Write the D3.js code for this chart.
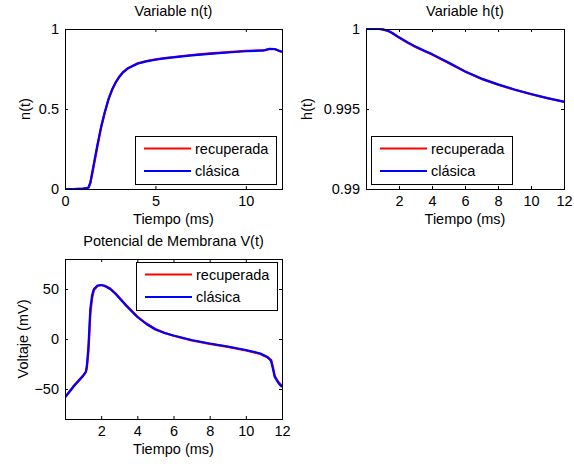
<!DOCTYPE html>
<html>
<head>
<meta charset="utf-8">
<script src="https://cdn.jsdelivr.net/npm/d3@7/dist/d3.min.js"></script>
<style>
  body { margin: 0; background: #fff; }
  #chart { width: 574px; height: 466px; }
  text { font-family: "Liberation Sans", Arial, sans-serif; font-size: 14.5px; fill: #000; }
</style>
</head>
<body>
<div id="chart"></div>
<script>

/* DATA: gating variable n(t) */
const tN = [0, 0.5, 1.0, 1.2, 1.3, 1.4, 1.5, 1.6, 1.8, 2.0, 2.2, 2.4, 2.6, 2.8, 3.0, 3.2, 3.5, 4.0, 4.5, 5.0, 5.5, 6.0, 7.0, 8.0, 9.0, 10.0, 11.0, 11.3, 11.6, 11.8, 12.0];
const nClasica = [0, 0, 0.002, 0.005, 0.01, 0.04, 0.1, 0.16, 0.28, 0.39, 0.48, 0.56, 0.62, 0.665, 0.7, 0.728, 0.755, 0.783, 0.798, 0.808, 0.816, 0.823, 0.835, 0.845, 0.853, 0.861, 0.866, 0.876, 0.875, 0.866, 0.858];
const nRecuperada = [0, 0, 0.002, 0.004, 0.008, 0.035, 0.09, 0.15, 0.27, 0.385, 0.478, 0.558, 0.619, 0.666, 0.702, 0.73, 0.757, 0.785, 0.8, 0.81, 0.818, 0.825, 0.837, 0.848, 0.856, 0.864, 0.867, 0.875, 0.874, 0.865, 0.857];

/* DATA: gating variable h(t) */
const tH = [0, 0.8, 1.0, 1.3, 1.6, 2.0, 2.5, 3.0, 3.5, 4.0, 5.0, 6.0, 7.0, 8.0, 9.0, 10.0, 11.0, 12.0];
const hClasica = [1.0, 1.0, 0.99998, 0.9999, 0.99975, 0.99948, 0.99918, 0.9989, 0.99866, 0.99843, 0.9979, 0.99735, 0.9969, 0.99654, 0.99622, 0.99594, 0.99568, 0.99546];
const hRecuperada = [1.0, 1.0, 0.99998, 0.99989, 0.99973, 0.99946, 0.99916, 0.99888, 0.99864, 0.99841, 0.99788, 0.99734, 0.99688, 0.99652, 0.9962, 0.99592, 0.99567, 0.99545];

/* DATA: membrane potential V(t) in mV */
const tV = [0, 0.5, 1.0, 1.15, 1.2, 1.25, 1.3, 1.35, 1.4, 1.5, 1.6, 1.8, 2.0, 2.2, 2.5, 2.8, 3.1, 3.4, 3.7, 4.0, 4.5, 5.0, 5.5, 6.0, 7.0, 8.0, 9.0, 10.0, 10.8, 11.2, 11.4, 11.5, 11.6, 11.8, 12.0];
const vClasica = [-58.6, -47, -37, -33, -28, -18, -6, 12, 30, 44, 50, 53.5, 54, 53, 50, 45, 39, 33, 27.5, 22, 15, 9.5, 6, 3.5, -1, -4.5, -7.5, -11, -14.5, -18, -22, -30, -38, -44, -48];
const vRecuperada = [-58.2, -46.5, -36.5, -33, -30, -22, -12, 6, 25, 41, 49, 53, 54, 53.2, 50.5, 45.5, 39.5, 33.5, 28, 22.5, 15.5, 10, 6.2, 3.2, -1.5, -4.8, -7.8, -11.5, -15, -18.5, -21, -28, -37, -43, -47];

/* AXES SETTINGS */
const xTicksN = [0, 5, 10];
const yTicksN = [0, 0.5, 1];
const xTicksHV = [2, 4, 6, 8, 10, 12];
const yTicksH = [0.99, 0.995, 1];
const yTicksV = [-50, 0, 50];
const legendLabels = ["recuperada", "clásica"];
const seriesColors = ["#ff0000", "#0000ff"];

const svg = d3.select("#chart")
    .append("svg")
    .attr("width", 574)
    .attr("height", 466);

function drawPanel(p) {
    const xScale = d3.scaleLinear().domain(p.xDomain).range([p.left, p.right]);
    const yScale = d3.scaleLinear().domain(p.yDomain).range([p.bottom, p.top]);
    const g = svg.append("g");

    // ticks point inward on all four sides, labels only bottom/left
    g.append("g")
        .attr("transform", `translate(0,${p.bottom})`)
        .call(d3.axisBottom(xScale).tickValues(p.xTicks).tickSizeInner(-3).tickSizeOuter(0).tickPadding(7))
        .call(a => a.select(".domain").remove());
    g.append("g")
        .attr("transform", `translate(0,${p.top})`)
        .call(d3.axisTop(xScale).tickValues(p.xTicks).tickSizeInner(-3).tickSizeOuter(0).tickFormat(""))
        .call(a => a.select(".domain").remove());
    g.append("g")
        .attr("transform", `translate(${p.left},0)`)
        .call(d3.axisLeft(yScale).tickValues(p.yTicks).tickSizeInner(-3).tickSizeOuter(0).tickPadding(6).tickFormat(p.yFormat))
        .call(a => a.select(".domain").remove());
    g.append("g")
        .attr("transform", `translate(${p.right},0)`)
        .call(d3.axisRight(yScale).tickValues(p.yTicks).tickSizeInner(-3).tickSizeOuter(0).tickFormat(""))
        .call(a => a.select(".domain").remove());
    g.selectAll(".tick text").attr("font-size", null).attr("font-family", null);
    g.selectAll(".tick line").attr("stroke", "#000");

    // lines: recuperada underneath, clásica on top
    const clipId = "clip" + p.id;
    svg.append("clipPath").attr("id", clipId)
        .append("rect")
        .attr("x", p.left).attr("y", p.top - 1)
        .attr("width", p.right - p.left).attr("height", p.bottom - p.top + 2);

    [p.red, p.blue].forEach(function(vals, i) {
        const line = d3.line()
            .x(function(d, j) { return xScale(p.t[j]); })
            .y(function(d) { return yScale(d); });
        g.append("path")
            .attr("d", line(vals))
            .attr("clip-path", `url(#${clipId})`)
            .attr("fill", "none")
            .attr("stroke", seriesColors[i])
            .attr("stroke-width", 2.2)
            .attr("stroke-linejoin", "round");
    });

    // frame
    g.append("rect")
        .attr("x", p.left + 0.5).attr("y", p.top + 0.5)
        .attr("width", p.right - p.left).attr("height", p.bottom - p.top)
        .attr("fill", "none")
        .attr("stroke", "#000");

    // titles
    g.append("text")
        .attr("x", (p.left + p.right) / 2)
        .attr("y", p.top - 13)
        .attr("text-anchor", "middle")
        .text(p.title);
    g.append("text")
        .attr("x", (p.left + p.right) / 2)
        .attr("y", p.bottom + 35)
        .attr("text-anchor", "middle")
        .text("Tiempo (ms)");
    g.append("text")
        .attr("transform", `translate(${p.yLabelX},${(p.top + p.bottom) / 2}) rotate(-90)`)
        .attr("text-anchor", "middle")
        .text(p.yLabel);

    // legend
    const lg = g.append("g").attr("transform", `translate(${p.legend[0]},${p.legend[1]})`);
    lg.append("rect")
        .attr("x", 0.5).attr("y", 0.5)
        .attr("width", 141).attr("height", 48)
        .attr("fill", "#fff")
        .attr("stroke", "#000");
    legendLabels.forEach(function(label, i) {
        const y = 12.5 + i * 22.5;
        lg.append("line")
            .attr("x1", 9).attr("x2", 56)
            .attr("y1", y).attr("y2", y)
            .attr("stroke", seriesColors[i])
            .attr("stroke-width", 2.2);
        lg.append("text")
            .attr("x", 60)
            .attr("y", y + 5)
            .text(label);
    });
}

drawPanel({
    id: "n", title: "Variable n(t)", yLabel: "n(t)", yLabelX: 30,
    left: 65, right: 282, top: 29, bottom: 189,
    xDomain: [0, 12], yDomain: [0, 1],
    xTicks: xTicksN, yTicks: yTicksN, yFormat: d3.format("~g"),
    t: tN, red: nRecuperada, blue: nClasica,
    legend: [135, 136]
});

drawPanel({
    id: "h", title: "Variable h(t)", yLabel: "h(t)", yLabelX: 312,
    left: 366, right: 564, top: 29, bottom: 189,
    xDomain: [0, 12], yDomain: [0.99, 1],
    xTicks: xTicksHV, yTicks: yTicksH, yFormat: d3.format("~g"),
    t: tH, red: hRecuperada, blue: hClasica,
    legend: [371, 136]
});

drawPanel({
    id: "v", title: "Potencial de Membrana V(t)", yLabel: "Voltaje (mV)", yLabelX: 28,
    left: 65, right: 282, top: 259, bottom: 419,
    xDomain: [0, 12], yDomain: [-80, 80],
    xTicks: xTicksHV, yTicks: yTicksV, yFormat: d3.format("~g"),
    t: tV, red: vRecuperada, blue: vClasica,
    legend: [136, 262]
});

</script>
</body>
</html>
